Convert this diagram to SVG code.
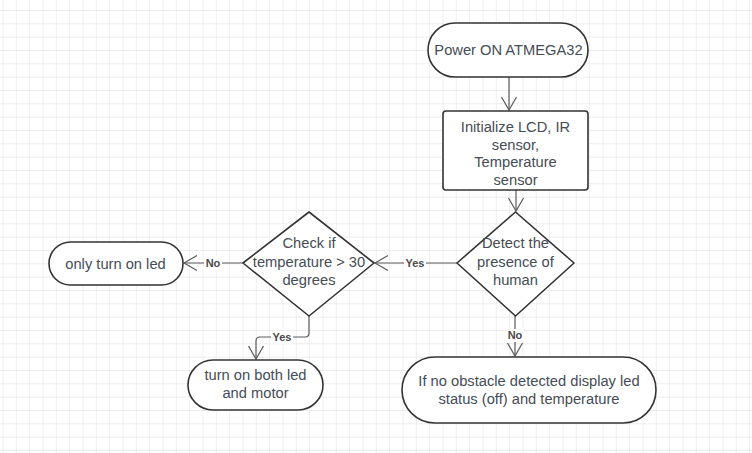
<svg xmlns="http://www.w3.org/2000/svg" width="752" height="453" viewBox="0 0 752 453">
  <defs>
    <pattern id="grid" x="2.5" y="10" width="13.333" height="13.333" patternUnits="userSpaceOnUse">
      <path d="M0 0 H13.333 M0 0 V13.333" fill="none" stroke="#e6e6e6" stroke-width="1.2"/>
    </pattern>
    <marker id="arr" markerUnits="userSpaceOnUse" markerWidth="18" markerHeight="18" refX="13" refY="8" orient="auto" overflow="visible">
      <path d="M0 0.5 L13 8 L0 15.5" fill="none" stroke="#5a5a5a" stroke-width="1.2"/>
    </marker>
    <style>
      .shape { fill: #ffffff; stroke: #333333; stroke-width: 1.6; }
      .txt { font-family: "Liberation Sans", Arial, sans-serif; font-size: 14.7px; fill: #464c55; text-anchor: middle; }
      .conn { fill: none; stroke: #5a5a5a; stroke-width: 1.2; }
      .lbl { font-family: "Liberation Sans", Arial, sans-serif; font-size: 11px; font-weight: bold; fill: #4a4a4a; text-anchor: middle; }
      .lblbg { fill: #ffffff; }
    </style>
  </defs>
  <rect x="0" y="0" width="752" height="453" fill="#ffffff"/>
  <rect x="0" y="0" width="752" height="453" fill="url(#grid)"/>

  <g id="connectors">
    <path class="conn" d="M509 77 V110" marker-end="url(#arr)"/>
    <path class="conn" d="M516 190 V211" marker-end="url(#arr)"/>
    <path class="conn" d="M457 263 H375" marker-end="url(#arr)"/>
    <path class="conn" d="M515 316 V356" marker-end="url(#arr)"/>
    <path class="conn" d="M309 316 V333 Q309 337 305 337 H260 Q256 337 256 341 V359" marker-end="url(#arr)"/>
    <path class="conn" d="M243 263 H184" marker-end="url(#arr)"/>
    <rect class="lblbg" x="404" y="256" width="22" height="13"/>
    <text class="lbl" x="415" y="267">Yes</text>
    <rect class="lblbg" x="506" y="329" width="18" height="13"/>
    <text class="lbl" x="515" y="339">No</text>
    <rect class="lblbg" x="271" y="331" width="22" height="13"/>
    <text class="lbl" x="282" y="341">Yes</text>
    <rect class="lblbg" x="204" y="257" width="18" height="13"/>
    <text class="lbl" x="213" y="267">No</text>
  </g>

  <g id="power">
    <rect class="shape" x="428" y="23" width="160" height="54" rx="27" ry="27"/>
    <text class="txt" x="508.5" y="55">Power ON ATMEGA32</text>
  </g>

  <g id="init">
    <rect class="shape" x="443" y="111" width="145" height="79" rx="3" ry="3"/>
    <text class="txt" x="515.5" y="131.5">Initialize LCD, IR</text>
    <text class="txt" x="515.5" y="149.5">sensor,</text>
    <text class="txt" x="515.5" y="167">Temperature</text>
    <text class="txt" x="515.5" y="184.5">sensor</text>
  </g>

  <g id="detect">
    <path class="shape" d="M515.5 212 L574 263 L515.5 316 L457 263 Z" stroke-linejoin="round"/>
    <text class="txt" x="515.5" y="248">Detect the</text>
    <text class="txt" x="515.5" y="267">presence of</text>
    <text class="txt" x="515.5" y="285">human</text>
  </g>

  <g id="check">
    <path class="shape" d="M309 212 L374 263 L309 316 L243 263 Z" stroke-linejoin="round"/>
    <text class="txt" x="309" y="248">Check if</text>
    <text class="txt" x="309" y="267">temperature &gt; 30</text>
    <text class="txt" x="309" y="285">degrees</text>
  </g>

  <g id="only-led">
    <rect class="shape" x="49" y="242" width="134" height="43" rx="21.5" ry="21.5"/>
    <text class="txt" x="115.5" y="268.5">only turn on led</text>
  </g>

  <g id="both">
    <rect class="shape" x="188" y="360" width="135" height="50" rx="25" ry="25"/>
    <text class="txt" x="255.5" y="380">turn on both led</text>
    <text class="txt" x="255.5" y="398">and motor</text>
  </g>

  <g id="no-obstacle">
    <rect class="shape" x="402" y="357" width="254" height="66" rx="33" ry="33"/>
    <text class="txt" x="529" y="386">If no obstacle detected display led</text>
    <text class="txt" x="529" y="404">status (off) and temperature</text>
  </g>
</svg>
